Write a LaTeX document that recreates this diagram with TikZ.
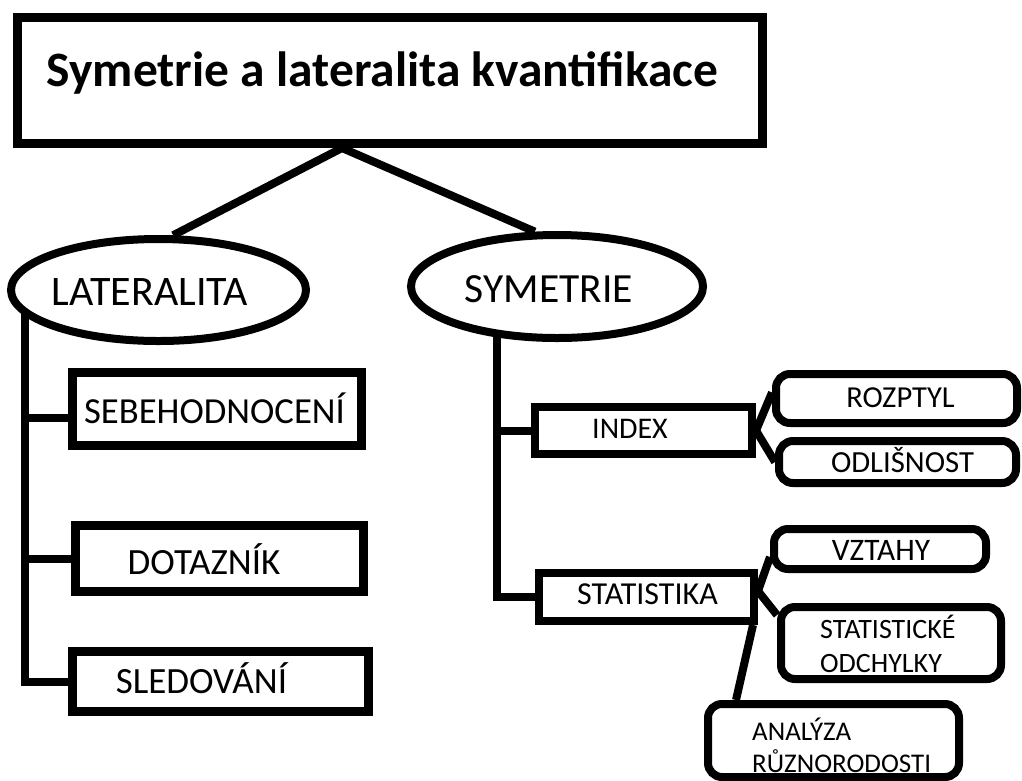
\documentclass[tikz,border=0pt]{standalone}
\usepackage{fontspec}
\setmainfont{Carlito}
\usetikzlibrary{shapes.geometric,backgrounds}
\newcommand{\fsz}[1]{\fontsize{#1pt}{#1pt}\selectfont}
\tikzset{
  sqbox/.style={draw, line width=8.5pt, inner sep=0pt, fill=white},
  rndbox/.style={draw, line width=8pt, inner sep=0pt, fill=white, rounded corners=14pt},
  ellbox/.style={draw, ellipse, line width=8pt, inner sep=0pt, fill=white},
  conn/.style={draw, line width=8pt},
  lbl/.style={inner sep=0pt, anchor=base},
  lblw/.style={inner sep=0pt, anchor=base west},
}
\begin{document}
\begin{tikzpicture}[x=1pt,y=-1pt]
\useasboundingbox (0,0) rectangle (1022,780);
% shapes
\node[sqbox, minimum width=745pt, minimum height=126pt] (title) at (390,80.5) {};
\node[ellbox, minimum width=295pt, minimum height=102pt] (lat) at (158.5,290) {};
\node[ellbox, minimum width=292pt, minimum height=103pt] (sym) at (557,286.5) {};
\node[sqbox, minimum width=289pt, minimum height=73pt] (sebe) at (217,409) {};
\node[sqbox, minimum width=288pt, minimum height=66pt] (dot) at (219.5,558.5) {};
\node[sqbox, minimum width=296pt, minimum height=60pt] (sled) at (220.5,681.5) {};
\node[sqbox, line width=8pt, minimum width=217pt, minimum height=47pt] (index) at (643.5,430.5) {};
\node[sqbox, line width=8pt, minimum width=215pt, minimum height=48pt] (stat) at (646.5,597) {};
\node[rndbox, minimum width=241pt, minimum height=49pt] (rozp) at (896.5,398.5) {};
\node[rndbox, minimum width=237pt, minimum height=42pt] (odl) at (897.5,462) {};
\node[rndbox, minimum width=212pt, minimum height=40pt] (vzt) at (880,549) {};
\node[rndbox, minimum width=220pt, minimum height=72pt] (sto) at (891,643) {};
\node[rndbox, minimum width=251pt, minimum height=73pt] (ana) at (833.5,740.5) {};
% texts
\node[lbl, font=\bfseries\fsz{49.5}] (titleT) at (382.5,86) {Symetrie a lateralita kvantifikace};
\node[lbl, font=\fsz{42}] (latT) at (150,305) {LATERALITA};
\node[lbl, font=\fsz{41.5}] (symT) at (549,302) {SYMETRIE};
\node[lbl, font=\fsz{36.7}] (sebeT) at (214.5,423) {SEBEHODNOCENÍ};
\node[lbl, font=\fsz{37}] (dotT) at (204,574) {DOTAZNÍK};
\node[lbl, font=\fsz{37}] (sledT) at (201.5,693) {SLEDOVÁNÍ};
\node[lbl, font=\fsz{30}] (indexT) at (630,438) {INDEX};
\node[lbl, font=\fsz{32}] (statT) at (647.5,604) {STATISTIKA};
\node[lbl, font=\fsz{30.5}] (rozpT) at (900.5,407) {ROZPTYL};
\node[lbl, font=\fsz{30.7}] (odlT) at (902.5,472) {ODLIŠNOST};
\node[lbl, font=\fsz{31.3}] (vztT) at (881,560) {VZTAHY};
\node[lblw, font=\fsz{28}] (stoT1) at (820,638) {STATISTICKÉ};
\node[lblw, font=\fsz{28}] (stoT2) at (820,672) {ODCHYLKY};
\node[lblw, font=\fsz{27}] (anaT1) at (752,740) {ANALÝZA};
\node[lblw, font=\fsz{27}] (anaT2) at (752,772) {RŮZNORODOSTI};
% connectors
\coordinate (apex) at (342,148);
\coordinate (tL) at (25,681.5);
\coordinate (tR) at (497,600);
\coordinate (sebeB) at ([yshift=-9pt]sebe.west);
\coordinate (statA) at ([yshift=6pt]stat.east);
\coordinate (statB) at ([xshift=-5pt]stat.south east);
\coordinate (rozpA) at ([yshift=6pt]rozp.west);
\coordinate (vztA) at ([yshift=-8pt]vzt.west);
\coordinate (stoA) at ([yshift=-12pt]sto.north west);
\coordinate (anaA) at ([xshift=32pt]ana.north west);
\begin{scope}[on background layer]
\draw[conn] (lat.75) -- (apex) -- (sym.112);
\draw[conn] (lat.center -| tL) |- (sled.west);
\draw[conn] (sebeB) -- (sebeB -| tL);
\draw[conn] (dot.west) -- (dot.west -| tL);
\draw[conn] (sym.center -| tR) |- (stat.west);
\draw[conn] (index.west) -- (index.west -| tR);
\draw[conn] (index.east) -- (rozpA);
\draw[conn] (index.east) -- (odl.west);
\draw[conn] (statA) -- (vztA);
\draw[conn] (statA) -- (stoA);
\draw[conn] (statB) -- (anaA);
\end{scope}
\end{tikzpicture}
\end{document}
